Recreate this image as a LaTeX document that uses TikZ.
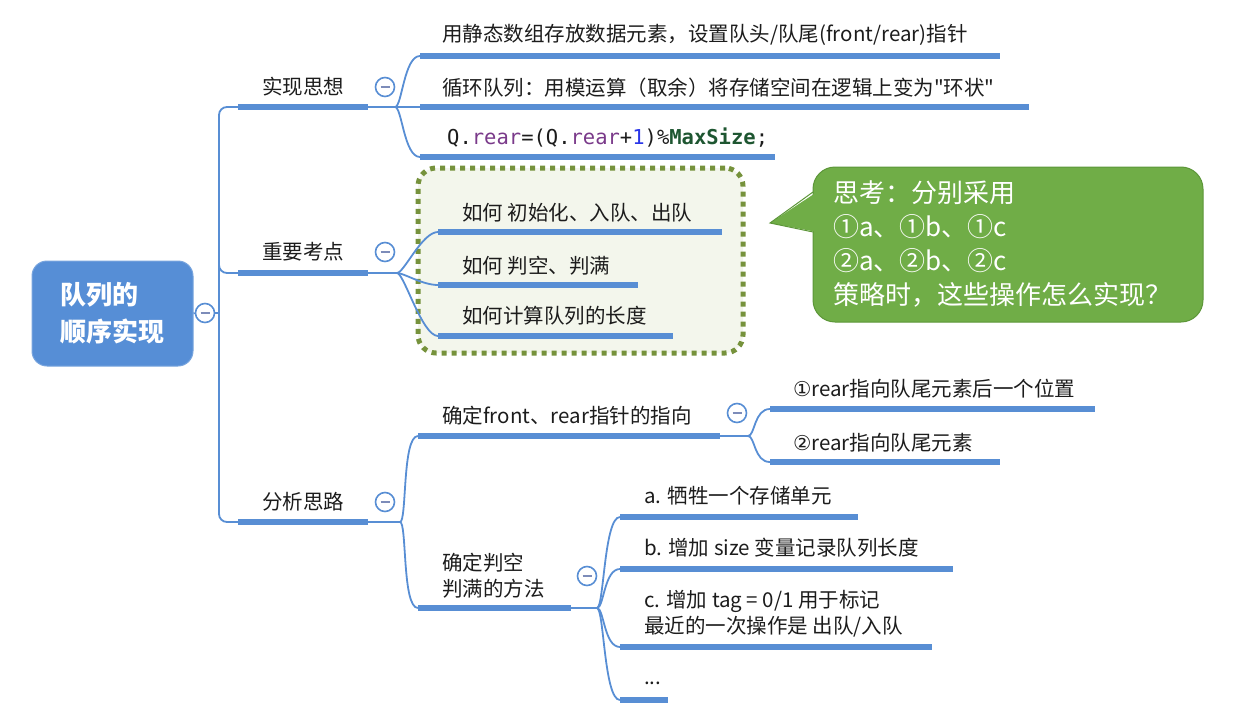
\documentclass[tikz,border=0pt]{standalone}
\usepackage{fontspec}
\setmainfont{Noto Sans CJK SC}[Ligatures=TeXOff]
\setmonofont{DejaVu Sans Mono}
\newfontfamily\dejavu{DejaVu Sans}
\usetikzlibrary{calc}
\definecolor{mblue}{RGB}{88,142,212}
\definecolor{rootc}{RGB}{86,142,214}
\definecolor{minusc}{RGB}{125,140,185}
\definecolor{textc}{RGB}{28,28,28}
\definecolor{olive}{RGB}{118,146,60}
\definecolor{boxfill}{RGB}{243,246,236}
\definecolor{callf}{RGB}{112,173,71}
\definecolor{callb}{RGB}{92,150,56}
\definecolor{cpurple}{RGB}{122,58,138}
\definecolor{cblue}{RGB}{42,54,232}
\definecolor{cgreen}{RGB}{30,86,49}
\tikzset{
  conn/.style={draw=mblue, line width=1.8pt},
  uline/.style={draw=mblue, line width=5.5pt},
  txt/.style={anchor=west, inner sep=0pt, text=textc, align=left, font=\fontsize{20.5}{26}\selectfont},
  btxt/.style={anchor=center, inner sep=0pt, text=textc, font=\fontsize{20.5}{26}\selectfont},
  fold/.style={circle, draw=mblue, line width=1.6pt, fill=white, minimum size=19pt, inner sep=0pt},
  minusmark/.style={draw=minusc, line width=1.6pt},
  rootbox/.style={rectangle, rounded corners=15pt, fill=rootc, draw=rootc!80!white, line width=1pt,
    minimum width=161pt, minimum height=105pt, align=left, text=white, inner sep=0pt,
    font=\fontsize{26}{37}\selectfont\bfseries},
  gbox/.style={rectangle, rounded corners=18pt, fill=boxfill, draw=olive, line width=5pt,
    dash pattern=on 5pt off 5pt, minimum width=325pt, minimum height=185pt},
  callbox/.style={rectangle, rounded corners=22pt, fill=callf, draw=callb, line width=1pt,
    minimum width=390pt, minimum height=155pt},
  calltxt/.style={anchor=west, inner sep=0pt, text=white, align=left, font=\fontsize{26}{34}\selectfont},
}
\newcommand\fan[2]{\draw[conn] (#1) .. controls ($(#1)+(7,0)$) and ($(#2)+(-16,0)$) .. (#2);}
\newcommand\minusin[1]{\draw[minusmark] ($(#1)+(-4.5,0)$) -- ($(#1)+(4.5,0)$);}
\begin{document}
\begin{tikzpicture}[x=1pt,y=-1pt]
\useasboundingbox (0,0) rectangle (1249,725);

% green dotted box
\node[gbox] (gb) at (580.5,260.5) {};

% callout
\node[callbox] (cb) at (1008,244.5) {};
\coordinate (ptip) at (770,223);
\coordinate (pbot) at (813,232);
\coordinate (ptop) at (813,192);
\fill[callf] (ptip) -- ($(pbot)+(4,0)$) -- ($(ptop)+(4,0)$) -- cycle;
\draw[draw=callb, line width=1pt] (pbot) -- (ptip) -- (ptop);
\node[calltxt] (call) at (833,244) {思考：分别采用\\①a、①b、①c\\②a、②b、②c\\策略时，这些操作怎么实现？};

% root
\node[rootbox] (root) at (112.5,313.5) {队列的\\顺序实现};
\coordinate (tk) at (219,313);
\coordinate (b1s) at (238,107); \coordinate (b1e) at (368,107);
\coordinate (b2s) at (238,273); \coordinate (b2e) at (368,273);
\coordinate (b3s) at (238,522); \coordinate (b3e) at (368,522);
\draw[conn, rounded corners=8pt] (b1s) -| (tk) |- (b3s);
\draw[conn, rounded corners=8pt] ($(tk)+(0,-70)$) |- (b2s);
\node[fold] (r0) at (205,313) {};
\draw[conn] (root.east) -- (r0.west);
\draw[conn] (r0.east) -- (tk);
\minusin{r0}

% ---------- branch 1
\node[btxt] (b1) at (303,87) {实现思想};
\draw[uline] (b1s) -- (b1e);
\coordinate (f1) at (395,107);
\draw[conn] (b1e) -- (f1);
\coordinate (c11s) at (420,56);  \coordinate (c11e) at (1000,56);
\coordinate (c12s) at (420,107); \coordinate (c12e) at (1029,107);
\coordinate (c13s) at (420,157); \coordinate (c13e) at (775,157);
\draw[conn] (f1) -- (c12s);
\fan{f1}{c11s}
\fan{f1}{c13s}
\draw[uline] (c11s) -- (c11e);
\draw[uline] (c12s) -- (c12e);
\draw[uline] (c13s) -- (c13e);
\node[txt] (c11) at (442,35) {用静态数组存放数据元素，设置队头/队尾(front/rear)指针};
\node[txt] (c12) at (442,88) {循环队列：用模运算（取余）将存储空间在逻辑上变为"环状"};
\node[txt] (c13) at (447,138) {\ttfamily Q.\textcolor{cpurple}{rear}=(Q.\textcolor{cpurple}{rear}+\textcolor{cblue}{1})\%\textcolor{cgreen}{\bfseries MaxSize};};
\node[fold] (k1) at (385,87) {};
\minusin{k1}

% ---------- branch 2
\node[btxt] (b2) at (303,252) {重要考点};
\draw[uline] (b2s) -- (b2e);
\coordinate (f2) at (397,273);
\draw[conn] (b2e) -- (f2);
\coordinate (c21s) at (438,232); \coordinate (c21e) at (722,232);
\coordinate (c22s) at (438,285); \coordinate (c22e) at (638,285);
\coordinate (c23s) at (438,336); \coordinate (c23e) at (673,336);
\fan{f2}{c21s}
\fan{f2}{c22s}
\fan{f2}{c23s}
\draw[uline] (c21s) -- (c21e);
\draw[uline] (c22s) -- (c22e);
\draw[uline] (c23s) -- (c23e);
\node[txt] (c21) at (462,213) {如何 初始化、入队、出队};
\node[txt] (c22) at (462,266) {如何 判空、判满};
\node[txt] (c23) at (462,316) {如何计算队列的长度};
\node[fold] (k2) at (385,252) {};
\minusin{k2}

% ---------- branch 3
\node[btxt] (b3) at (303,502) {分析思路};
\draw[uline] (b3s) -- (b3e);
\coordinate (f3) at (400,522);
\draw[conn] (b3e) -- (f3);
\coordinate (c31s) at (418,436); \coordinate (c31e) at (720,436);
\coordinate (c32s) at (418,608); \coordinate (c32e) at (571,608);
\fan{f3}{c31s}
\fan{f3}{c32s}
\draw[uline] (c31s) -- (c31e);
\draw[uline] (c32s) -- (c32e);
\node[txt] (c31) at (442,416) {确定front、rear指针的指向};
\node[txt] (c32) at (442,576) {确定判空\\判满的方法};

% sub of c31
\coordinate (f31) at (748,436);
\draw[conn] (c31e) -- (f31);
\coordinate (d1s) at (770,409); \coordinate (d1e) at (1095,409);
\coordinate (d2s) at (770,462); \coordinate (d2e) at (1000,462);
\fan{f31}{d1s}
\fan{f31}{d2s}
\draw[uline] (d1s) -- (d1e);
\draw[uline] (d2s) -- (d2e);
\node[txt] (d1) at (793,389) {{\dejavu ①}rear指向队尾元素后一个位置};
\node[txt] (d2) at (793,443) {{\dejavu ②}rear指向队尾元素};
\node[fold] (k31) at (737,413) {};
\minusin{k31}

% sub of c32
\coordinate (f32) at (597,608);
\draw[conn] (c32e) -- (f32);
\coordinate (e1s) at (620,517); \coordinate (e1e) at (858,517);
\coordinate (e2s) at (620,569); \coordinate (e2e) at (953,569);
\coordinate (e3s) at (620,647); \coordinate (e3e) at (932,647);
\coordinate (e4s) at (620,700); \coordinate (e4e) at (668,700);
\fan{f32}{e1s}
\fan{f32}{e2s}
\fan{f32}{e3s}
\fan{f32}{e4s}
\draw[uline] (e1s) -- (e1e);
\draw[uline] (e2s) -- (e2e);
\draw[uline] (e3s) -- (e3e);
\draw[uline] (e4s) -- (e4e);
\node[txt] (e1) at (644,496) {a. 牺牲一个存储单元};
\node[txt] (e2) at (644,548) {b. 增加 size 变量记录队列长度};
\node[txt] (e3) at (644,614) {c. 增加 tag = 0/1 用于标记\\最近的一次操作是 出队/入队};
\node[txt] (e4) at (644,683) {...};
\node[fold] (k32) at (587,576) {};
\minusin{k32}

% fold circles of branches
\node[fold] (k3) at (385,502) {};
\minusin{k3}
\end{tikzpicture}
\end{document}
